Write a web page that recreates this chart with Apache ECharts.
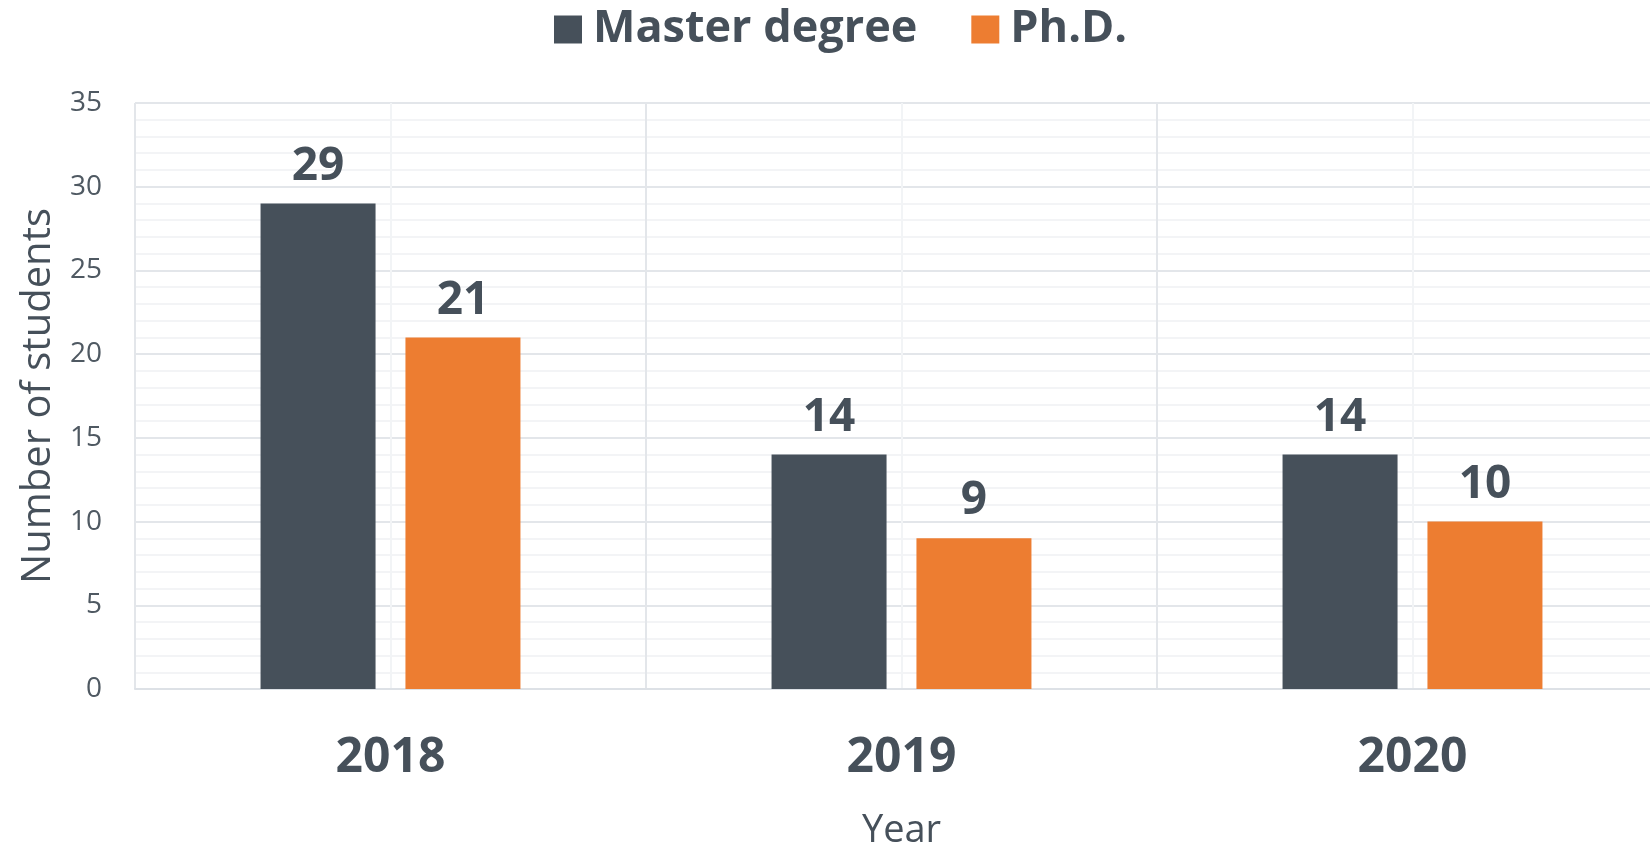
<!DOCTYPE html>
<html>
<head>
<meta charset="utf-8">
<script src="https://cdn.jsdelivr.net/npm/echarts@6/dist/echarts.min.js"></script>
<style>
html,body{margin:0;padding:0;background:#fff;}
#chart{width:1650px;height:848px;}
</style>
</head>
<body>
<div id="chart"></div>
<script>
const years = ['2018', '2019', '2020'];
const masterValues = [29, 14, 14];
const phdValues = [21, 9, 10];
const seriesNames = ['Master degree', 'Ph.D.'];
const yTicks = { min: 0, max: 35, interval: 5 };

const dark = '#46505A';
const orange = '#ED7D31';
const font = '"Open Sans", "Noto Sans", sans-serif';

const chart = echarts.init(document.getElementById('chart'));
chart.setOption({
  animation: false,
  textStyle: { fontFamily: font },
  legend: {
    left: 549, top: 2,
    icon: 'rect', itemWidth: 28, itemHeight: 28, itemGap: 54,
    textStyle: { fontSize: 45, fontWeight: 'bold', color: dark, fontFamily: font, padding: [14, 0, 0, 6] },
    data: seriesNames
  },
  grid: { left: 135, width: 1533, top: 103, height: 586, containLabel: false, outerBoundsMode: 'none' },
  xAxis: [{
    type: 'category',
    data: years,
    axisLine: { show: true, lineStyle: { color: '#DDE1E6', width: 2 } },
    axisTick: { show: false },
    axisLabel: { fontSize: 48, fontWeight: 'bold', color: dark, margin: 45, fontFamily: font },
    splitLine: { show: false },
    name: 'Year', nameLocation: 'middle', nameGap: 123,
    nameTextStyle: { fontSize: 38, color: dark, fontFamily: font }
  }, {
    type: 'value', min: 0, max: 3, interval: 1,
    position: 'bottom',
    axisLine: { show: false }, axisTick: { show: false }, axisLabel: { show: false },
    splitLine: { show: true, lineStyle: { color: '#E3E6EA', width: 2 } },
    minorTick: { show: false, splitNumber: 2 },
    minorSplitLine: { show: true, lineStyle: { color: '#F2F4F6', width: 2 } }
  }],
  yAxis: {
    type: 'value',
    min: yTicks.min, max: yTicks.max, interval: yTicks.interval,
    axisLine: { show: false }, axisTick: { show: false },
    axisLabel: { fontSize: 28, color: '#4F5962', margin: 33, fontFamily: font },
    splitLine: { show: true, lineStyle: { color: '#E3E6EA', width: 2 } },
    minorTick: { show: false, splitNumber: 5 },
    minorSplitLine: { show: true, lineStyle: { color: '#F3F4F6', width: 2 } },
    name: 'Number of students', nameLocation: 'middle', nameGap: 72,
    nameTextStyle: { fontSize: 40, color: dark, fontFamily: font }
  },
  series: [{
    name: seriesNames[0], type: 'bar', data: masterValues,
    xAxisIndex: 0,
    barWidth: 115, barGap: '26%',
    itemStyle: { color: dark },
    label: { show: true, position: 'top', distance: 14, fontSize: 46, fontWeight: 'bold', color: dark, fontFamily: font }
  }, {
    name: seriesNames[1], type: 'bar', data: phdValues,
    xAxisIndex: 0,
    barWidth: 115, barGap: '26%',
    itemStyle: { color: orange },
    label: { show: true, position: 'top', distance: 14, fontSize: 46, fontWeight: 'bold', color: dark, fontFamily: font }
  }]
});
</script>
</body>
</html>
